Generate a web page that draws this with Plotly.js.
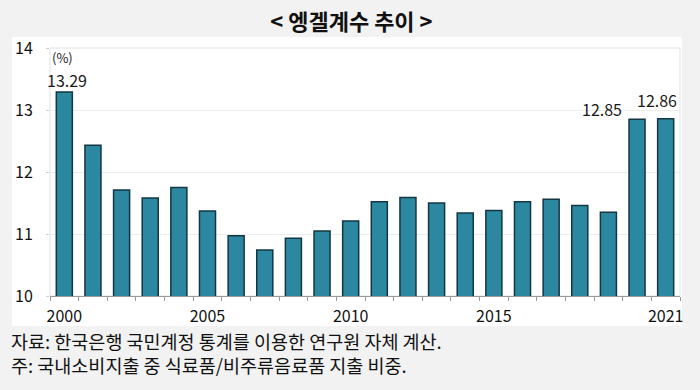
<!DOCTYPE html>
<html>
<head>
<meta charset="utf-8">
<script src="https://cdn.plot.ly/plotly-3.0.1.min.js"></script>
<style>
html,body{margin:0;padding:0;background:#f2f2f2;}
#chart{width:700px;height:390px;}
</style>
</head>
<body>
<div id="chart"></div>
<script>
const years = ["2000","2001","2002","2003","2004","2005","2006","2007","2008","2009","2010",
               "2011","2012","2013","2014","2015","2016","2017","2018","2019","2020","2021"];
const engel = [13.29,12.43,11.71,11.58,11.75,11.37,10.97,10.74,10.93,11.05,11.21,
               11.52,11.59,11.50,11.34,11.38,11.52,11.56,11.46,11.35,12.85,12.86];
const tickLabelYears = ["2000","2005","2010","2015","2021"];
const labeledYears = ["2000","2020","2021"];
const yTicks = [10,11,12,13,14];
const titleText = "&lt; 엥겔계수 추이 &gt;";
const unitText = "(%)";
const notes = ["자료: 한국은행 국민계정 통계를 이용한 연구원 자체 계산.",
               "주: 국내소비지출 중 식료품/비주류음료품 지출 비중."];

const FONT = "'Noto Sans CJK KR', 'Noto Sans', sans-serif";

const labelShift = {"2000":[3,-2],"2020":[-35,-4],"2021":[-9,5]};

const annotations = labeledYears.map(y => {
  const i = years.indexOf(y);
  return {x: i, y: engel[i], xref:'x', yref:'y', text: engel[i].toFixed(2),
          showarrow:false, xanchor:'center', yanchor:'bottom',
          xshift: labelShift[y][0], yshift: labelShift[y][1],
          font:{family:FONT, size:16, color:'#1a1a1a'}};
});
annotations.push({x:0.0, y:0.962, xref:'paper', yref:'paper', text:unitText, showarrow:false,
  xanchor:'left', yanchor:'middle', font:{family:FONT, size:13, color:'#1a1a1a'}});
notes.forEach((t, k) => {
  annotations.push({x:-0.065, y:(296-341-24*k)/248, xref:'paper', yref:'paper', text:t,
    showarrow:false, xanchor:'left', yanchor:'middle',
    font:{family:FONT, size:18.5, color:'#111'}});
});

const trace = {
  type:'bar', x: years, y: engel,
  marker:{color:'#2b88a0', line:{color:'#123743', width:1.5}},
  hoverinfo:'x+y'
};

const layout = {
  width:700, height:390,
  margin:{l:50, r:20, t:48, b:94},
  paper_bgcolor:'#f2f2f2',
  plot_bgcolor:'rgba(0,0,0,0)',
  bargap:0.44,
  showlegend:false,
  title:{text:titleText, x:0.502, xref:'container', y:1-22/390, yref:'container',
         xanchor:'center', yanchor:'middle',
         font:{family:FONT, size:22, color:'#111', weight:'bold'}},
  xaxis:{type:'category', tickson:'boundaries', tickvals: years,
         ticktext: years.map(y => tickLabelYears.includes(y) ? y : ''),
         tickangle:0, ticklabelstandoff:6,
         ticks:'outside', ticklen:4, tickcolor:'#999', tickwidth:1,
         showline:true, linecolor:'#999', linewidth:1, showgrid:false,
         range:[-0.5, years.length-0.5],
         tickfont:{family:FONT, size:16, color:'#111'}},
  yaxis:{range:[10,14], tickvals:yTicks, ticktext:yTicks.map(String),
         ticks:'outside', ticklen:3, tickcolor:'#ccc',
         showgrid:true, gridcolor:'#ececec', gridwidth:1, zeroline:false,
         showline:false, ticklabelstandoff:10,
         tickfont:{family:FONT, size:16, color:'#111'}},
  shapes:[
    {type:'rect', xref:'paper', yref:'paper', x0:-0.0603, x1:1.0032, y0:-0.121, y1:1.044,
     fillcolor:'#ffffff', line:{width:0}, layer:'below'},
    {type:'rect', xref:'paper', yref:'paper', x0:0, x1:1, y0:0, y1:1,
     fillcolor:'rgba(0,0,0,0)', line:{color:'#e2e2e2', width:1}, layer:'below'}
  ],
  annotations: annotations
};

Plotly.newPlot('chart', [trace], layout, {displayModeBar:false, staticPlot:true});
</script>
</body>
</html>
